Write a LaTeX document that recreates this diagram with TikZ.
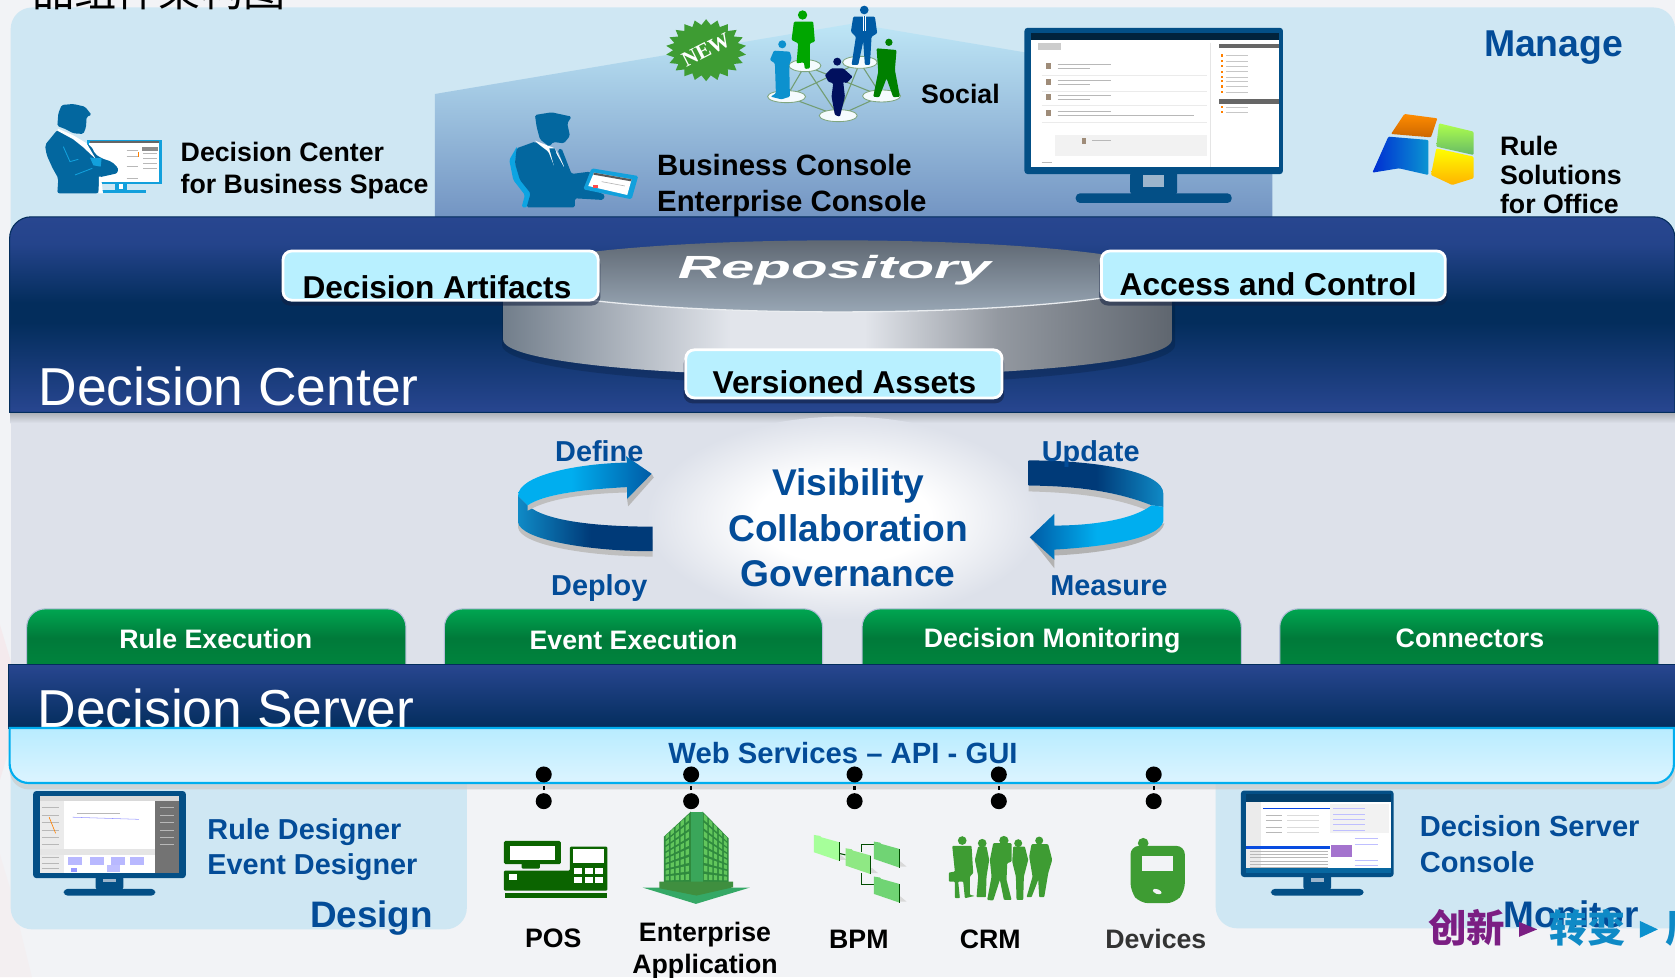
\documentclass[tikz,border=0pt]{standalone}
\usepackage{fontspec}
\setmainfont{Liberation Sans}
\newfontfamily\cjk{Noto Sans CJK SC}
\newfontfamily\serifnew{Liberation Serif}
\usetikzlibrary{shapes.geometric}
\definecolor{pagebg}{HTML}{F2F3F6}
\definecolor{panelblue}{HTML}{CFE7F3}
\definecolor{midbg}{HTML}{DDE1EA}
\definecolor{navya}{HTML}{284690}
\definecolor{navyb}{HTML}{032D5C}
\definecolor{txtblue}{HTML}{034C98}
\definecolor{boxblue}{HTML}{B8F0FF}
\definecolor{peoplebl}{HTML}{03679F}
\definecolor{skyb}{HTML}{12A0DC}
\definecolor{greenicon}{HTML}{3E9C33}
\definecolor{bezel}{HTML}{034F86}
\definecolor{diska}{HTML}{5F6873}
\definecolor{diskb}{HTML}{98A6B4}
\definecolor{sidel}{HTML}{727E8B}
\definecolor{sidem}{HTML}{E2E5EB}
\definecolor{sider}{HTML}{5F666F}
\definecolor{ta}{HTML}{00A651}
\definecolor{tb}{HTML}{007A3A}
\definecolor{tc}{HTML}{009040}
\definecolor{cenTop}{HTML}{BEE6F6}
\definecolor{cenBot}{HTML}{6E8FBF}
\definecolor{rib1}{HTML}{00AEEF}
\definecolor{rib2}{HTML}{005BA5}
\definecolor{rib3}{HTML}{0F8AC6}
\definecolor{rib4}{HTML}{003A78}
\definecolor{webtop}{HTML}{B8ECFF}
\definecolor{webbot}{HTML}{DCF4FF}
\definecolor{wmpurple}{HTML}{7B1E83}
\pgfdeclareverticalshading{dcband}{100bp}{color(0bp)=(navya); color(25bp)=(navya); color(38bp)=(navyb!55!navya); color(48bp)=(navyb); color(53bp)=(navyb); color(68bp)=(navya!90!navyb); color(75bp)=(navya); color(100bp)=(navya)}
\pgfdeclareverticalshading{tabshade}{100bp}{color(0bp)=(tc); color(25bp)=(tc); color(50bp)=(tb!70!tc); color(60bp)=(tb); color(75bp)=(ta); color(100bp)=(ta)}
\pgfdeclarehorizontalshading{sideshade}{100bp}{color(0bp)=(sidel); color(25bp)=(sidel); color(42bp)=(sidem); color(52bp)=(sidem); color(62bp)=(sider!60!sidem); color(75bp)=(sider); color(100bp)=(sider)}
\pgfdeclarehorizontalshading{riblowl}{100bp}{color(0bp)=(rib3); color(25bp)=(rib3); color(52bp)=(rib4); color(100bp)=(rib4)}
\pgfdeclarehorizontalshading{ribupl}{100bp}{color(0bp)=(rib1); color(25bp)=(rib1); color(45bp)=(rib1); color(75bp)=(rib2); color(100bp)=(rib2)}
\pgfdeclarehorizontalshading{ribupr}{100bp}{color(0bp)=(rib4); color(25bp)=(rib4); color(50bp)=(rib4); color(75bp)=(rib3); color(100bp)=(rib3)}
\pgfdeclarehorizontalshading{riblowr}{100bp}{color(0bp)=(rib2); color(25bp)=(rib2); color(50bp)=(rib1); color(100bp)=(rib1)}
\pgfdeclareradialshading{glowshade}{\pgfpoint{0bp}{0bp}}{color(0bp)=(white); color(11bp)=(white); color(25bp)=(midbg); color(50bp)=(midbg)}
\tikzset{
 lab/.style={anchor=base west,inner sep=0pt,font=\fontsize{#1}{#1}\selectfont\bfseries},
 blab/.style={lab=#1,text=txtblue},
 clab/.style={anchor=base,inner sep=0pt,font=\fontsize{#1}{#1}\selectfont\bfseries},
 artbox/.style={rectangle,rounded corners=8,draw=white,line width=2.6pt,fill=boxblue,inner sep=0pt},
 boxshadow/.style={rectangle,rounded corners=8,fill=black!55!navya,opacity=.55,inner sep=0pt},
 greentab/.style={shading=tabshade,draw=navya!35!white,line width=1pt,rounded corners=17},
 tabtxt/.style={clab=25,text=white},
 dot/.style={circle,fill=black,inner sep=0pt,minimum size=15pt},
 peg/.style={draw=black,line width=2.2pt,shorten <=3pt,shorten >=3pt},
 tiny/.style={line width=.6pt,draw=black!28},
}
% monitor: x1 y1 x2 y2 (bezel), neck half width, neck bottom y, base half width, base bottom y
\newcommand{\mymon}[9][bezel]{%
 \pgfmathsetmacro{\cx}{(#2+#4)/2}
 \fill[#1,rounded corners=2.5] (\cx-#6,#5-2) rectangle (\cx+#6,#7+1);
 \fill[midbg!70!bezel] (\cx-#6*.45,#5+1) rectangle (\cx+#6*.45,#7-6);
 \fill[#1,rounded corners=4] (\cx-#8,#7) rectangle (\cx+#8,#9);
 \fill[#1,rounded corners=3] (#2,#3) rectangle (#4,#5);
}
\begin{document}
\begin{tikzpicture}[x=1pt,y=-1pt]
\useasboundingbox (0,0) rectangle (1568,914.6);
\fill[pagebg] (0,0) rectangle (1568,914.6);
% faint backdrop facets
\fill[pink!30!pagebg,opacity=.5] (0,585) -- (12,625) -- (9,700) -- (0,730) -- cycle;
\fill[pink!20!pagebg,opacity=.4] (0,800) -- (9,830) -- (30,915) -- (0,915) -- cycle;
% top panel
\fill[panelblue,rounded corners=20] (10,7) rectangle (1568,260);
\node[anchor=base west,inner sep=0pt,font=\cjk\fontsize{39.5}{40}\selectfont,text=black] (title) at (30,6) {品组件架构图};
% centre wedge
\path[top color=cenTop,bottom color=cenBot] (407,88) -- (799,22) -- (1191,88) -- (1191,215) -- (407,215) -- cycle;
\node[blab=35] (manage) at (1389,53) {Manage};

% ---- person with desktop
\begin{scope}[shift={(28.08,84.24)},scale=.312]
 \fill[skyb] (170,150) rectangle (395,283);
 \fill[white] (176,160) rectangle (388,277);
 \fill[black!45] (336,172) rectangle (384,182);
 \fill[black!60] (180,153) rectangle (388,159);
 \foreach \yy in {190,205,220,235}{\draw[tiny] (340,\yy) -- (382,\yy);}
 \foreach \yy in {180,200,230,265}{\draw[tiny] (290,\yy) -- (325,\yy);}
 \fill[orange] (323,185) rectangle (328,200);
 \fill[skyb] (255,283) rectangle (290,300);
 \fill[skyb] (215,300) rectangle (348,310);
 \fill[white] (268,283) rectangle (278,296);
 \fill[peoplebl,rounded corners=1.5] (85,70) -- (95,45) -- (130,42) -- (165,50) -- (185,75) -- (170,80) -- (168,112) -- (160,132) -- (130,130) -- (108,118) -- (82,108) -- cycle;
 \fill[peoplebl,rounded corners=2] (82,120) -- (45,165) -- (50,195) -- (68,235) -- (85,265) -- (82,310) -- (205,310) -- (208,262) -- (262,250) -- (265,235) -- (245,215) -- (215,205) -- (195,192) -- (185,170) -- (130,140) -- cycle;
 \fill[white] (84,116) -- (130,136) -- (170,160) -- (208,225) -- (195,205) -- (160,172) -- (130,148) -- (82,122) -- cycle;
 \fill[white] (207,260) -- (213,260) -- (219,310) -- (207,310) -- cycle;
 \fill[skyb] (180,203) -- (215,205) -- (212,230) -- (190,226) -- cycle;
 \draw[skyb,line width=.8pt] (100,170) -- (120,215) -- (145,208);
 \draw[skyb,line width=.8pt] (135,255) -- (187,235);
\end{scope}
\node[lab=25,align=left,anchor=west,font=\fontsize{25}{30}\selectfont\bfseries] (dcbs) at (169,160) {Decision Center\\for Business Space};

% ---- person with tablet
\begin{scope}[shift={(458.64,93.6)},scale=.312]
 \fill[skyb!70!rib1,rounded corners=1.5] (82,138) -- (58,180) -- (70,240) -- (105,285) -- (95,322) -- (112,322) -- (122,280) -- (178,268) -- (120,270) -- (90,235) -- (75,190) -- cycle;
 \fill[white] (135,122) -- (195,145) -- (230,212) -- (180,208) -- (170,155) -- cycle;
 \fill[peoplebl,rounded corners=1.5] (135,45) -- (185,37) -- (245,50) -- (232,70) -- (240,108) -- (222,130) -- (190,126) -- (178,140) -- (150,118) -- (140,80) -- cycle;
 \fill[peoplebl,rounded corners=1.5] (80,145) -- (135,125) -- (175,155) -- (195,205) -- (225,205) -- (203,150) -- (215,145) -- (245,222) -- (300,215) -- (315,235) -- (290,260) -- (345,285) -- (340,300) -- (255,295) -- (255,322) -- (110,322) -- (122,280) -- (90,240) -- (75,190) -- cycle;
 \fill[peoplebl] (178,145) -- (195,145) -- (200,162) -- (225,207) -- (195,208) -- cycle;
 \fill[skyb,rounded corners=1.5] (305,205) -- (445,228) -- (425,298) -- (280,268) -- cycle;
 \fill[white] (312,218) -- (425,238) -- (412,285) -- (295,258) -- cycle;
 \fill[black!65] (312,218) -- (425,238) -- (423,244) -- (310,224) -- cycle;
 \fill[red!70] (310,255) rectangle (325,263);
 \draw[tiny] (335,245) -- (405,258);
\end{scope}
\node[lab=27.5,align=left,anchor=west,font=\fontsize{27.5}{33}\selectfont\bfseries] (bcec) at (615,174) {Business Console\\Enterprise Console};

% ---- NEW badge
\node[star,star points=22,star point ratio=1.22,fill=greenicon,minimum size=58pt,inner sep=0pt,xscale=1.3] (newbadge) at (661,47) {};
\node[inner sep=0pt,rotate=27,text=white,font=\serifnew\bfseries\fontsize{20}{20}\selectfont] (newtext) at (661,47) {NEW};

% ---- social
\begin{scope}[shift={(608.4,0)},scale=.312]
 \foreach \a/\b/\c/\d in {465/197/565/347,465/197/695/288,410/290/630/187,410/290/565/347,630/187/565/347,630/187/695/288,695/288/565/347,465/197/410/290}{
  \draw[green!30!black!55,line width=1pt] (\a,\b) -- (\c,\d);}
 \foreach \a/\b/\c in {465/197/48,630/187/52,410/290/57,695/288/57,565/347/57}{
  \filldraw[draw=green!30!black!50,line width=.8pt,fill=white!85!cenTop] (\a,\b) ellipse[x radius=\c,y radius=18];}
 \fill[green!65!black] (458,45) circle (14);
 \fill[green!65!black,rounded corners=1] (432,65) -- (490,65) -- (495,125) -- (480,130) -- (480,205) -- (465,207) -- (462,187) -- (440,190) -- (445,130) -- (425,120) -- cycle;
 \fill[rib3!80!rib1] (397,133) circle (12);
 \fill[rib3!80!rib1,rounded corners=1] (372,152) -- (420,155) -- (425,175) -- (418,195) -- (420,290) -- (395,298) -- (362,290) -- (378,280) -- (375,190) -- (360,180) -- cycle;
 \fill[rib2] (643,30) circle (13);
 \fill[rib2,rounded corners=1] (610,50) -- (675,50) -- (682,100) -- (665,110) -- (660,195) -- (645,195) -- (640,125) -- (625,195) -- (605,195) -- (618,110) -- (603,95) -- cycle;
 \fill[white] (638,48) -- (648,48) -- (648,92) -- (638,92) -- cycle;
 \fill[rib2] (641,48) rectangle (645,92);
 \fill[green!50!black] (717,127) circle (11);
 \fill[green!50!black,rounded corners=1] (680,145) -- (740,150) -- (735,210) -- (750,290) -- (730,292) -- (710,235) -- (688,292) -- (670,290) -- (685,215) -- cycle;
 \fill[navyb!60!blue!60!black] (562,185) circle (12);
 \fill[navyb!60!blue!60!black,rounded corners=1] (545,205) -- (580,205) -- (608,230) -- (590,250) -- (580,245) -- (585,290) -- (570,350) -- (555,345) -- (545,290) -- (550,250) -- (535,245) -- (525,225) -- cycle;
\end{scope}
\node[lab=25] (social) at (862,97) {Social};

% ---- central monitor
\mymon{959}{26}{1201}{163}{22}{181}{73}{190}
\fill[white] (965.5,33) rectangle (1197,156);
\fill[black!55!bezel] (965.5,31) rectangle (1197,37);
\fill[black!20] (971.6,40.5) rectangle (993,46.8);
\foreach \yy in {62,77,91,106}{
 \fill[brown!50!black!60] (979,\yy-3) rectangle (984,\yy+3);
 \draw[tiny] (990,\yy-2) -- (1040,\yy-2);
 \draw[tiny] (990,\yy+2) -- (1020,\yy+2);
 \draw[black!8,line width=.5pt] (975,\yy+8) -- (1130,\yy+8);}
\draw[tiny] (990,108) -- (1118,108);
\fill[black!60] (1141,41) rectangle (1197.5,45);
\fill[black!60] (1141,93) rectangle (1197.5,97);
\foreach \yy in {52,57,62,67,72,76,81,86,100,105}{
 \fill[orange] (1143,\yy-1) rectangle (1145,\yy+1);
 \draw[tiny,draw=black!22] (1148,\yy) -- (1168,\yy);}
\fill[black!5] (988,126) rectangle (1130,146);
\fill[brown!50!black!60] (1013,129) rectangle (1017,135);
\draw[tiny] (1022,131) -- (1040,131);
\draw[black!10,line width=.5pt] (1133,40) -- (1133,156);
\draw[tiny] (975,152) -- (985,152);

% ---- Rule Solutions flag
\begin{scope}[shift={(786.2,0)},xscale=.4985,yscale=.312]
 \shade[top color=orange!90!yellow,bottom color=orange!80!black,rounded corners=1] (1060,342) -- (1122,355) -- (1110,412) -- (1035,402) -- cycle;
 \shade[left color=blue!50!rib2,right color=rib3!70!rib1,rounded corners=1] (1030,410) -- (1105,420) -- (1105,525) -- (1050,505) -- (1000,518) -- cycle;
 \shade[top color=green!45!yellow!70!white,bottom color=green!55!black!60!white,rounded corners=1] (1125,370) -- (1190,395) -- (1190,465) -- (1120,440) -- cycle;
 \shade[top color=yellow,bottom color=orange!60!yellow,rounded corners=1] (1120,445) -- (1190,470) -- (1190,535) -- (1150,555) -- (1110,525) -- cycle;
\end{scope}
\node[lab=25,align=left,anchor=west,font=\fontsize{25}{27}\selectfont\bfseries] (rsfo) at (1404,164) {Rule\\Solutions\\for Office};

% ---- mid zone and Decision Center band
\fill[midbg] (10,386) rectangle (1568,640);
\path[top color=black!25!midbg,bottom color=midbg] (10,385) rectangle (1568,396);
\path[shading=dcband,draw=navyb,line width=1pt] (9,386) -- (9,223) .. controls (9,212) and (18,203) .. (29,203) -- (1548,203) .. controls (1559,203) and (1568,212) .. (1568,223) -- (1568,386) -- cycle;
% repository disk
\fill[black!60!navyb,opacity=.22] (470,268) -- (470,323) .. controls (470,345) and (620,360) .. (784,360) .. controls (950,360) and (1100,345) .. (1100,323) -- (1100,268) -- cycle;
\path[shading=sideshade] (471,258.5) -- (471,318) .. controls (471,338) and (610,352) .. (784,352) .. controls (958,352) and (1097,338) .. (1097,318) -- (1097,258.5) -- cycle;
\path[top color=diska,bottom color=diskb] (784,258.5) ellipse[x radius=313,y radius=33.5];
\draw[white!80!diskb,line width=1.2pt] (471,258.5) .. controls (471,277) and (611,292) .. (784,292) .. controls (957,292) and (1097,277) .. (1097,258.5);
\node[inner sep=0pt,anchor=base,text=white,xscale=1.87,font=\fontsize{30}{30}\selectfont\bfseries\itshape] (repo) at (781,260.5) {Repository};
% boxes
\foreach \nm/\x/\y/\w/\h in {da/412.5/263/295/46,ac/1192/263/322/46,va/790/355/296/45}{
 \node[boxshadow,minimum width=\w pt+4pt,minimum height=\h pt] (\nm s) at (\x,\y) {};
 \node[artbox,minimum width=\w pt,minimum height=\h pt] (\nm) at (\x,\y-5) {};
}
\node[lab=29.6] (datxt) at (283,279) {Decision Artifacts};
\node[lab=29.6] (actxt) at (1048,276.5) {Access and Control};
\node[lab=29.6] (vatxt) at (667,368) {Versioned Assets};
\node[lab=50,font=\fontsize{50}{50}\selectfont,text=white] (dctitle) at (36,380) {Decision Center};

% ---- glow and loop
\path[shading=glowshade] (790,485) ellipse[x radius=185,y radius=95];
% left ribbon
\fill[black!25] (485,480) -- (485,494) .. controls (487,510) and (550,521) .. (611,521) -- (611,505) .. controls (550,505) and (495,495) .. (485,480) -- cycle;
\path[shading=riblowl] (485,464) -- (485,489) .. controls (487,505) and (550,516) .. (611,516) -- (611,493) .. controls (560,493) and (510,488) .. (494,473) -- cycle;
\fill[black!25] (587,461) .. controls (550,462) and (515,466) .. (494,478) -- (494,473) .. controls (510,462) and (550,458) .. (587,456) -- cycle;
\fill[black!28] (587,467) -- (610,443.5) -- (612,447) -- (588,474) -- cycle;
\path[shading=ribupl] (485,464) .. controls (485,445) and (540,434) .. (587,433) -- (586,427) -- (610,443.5) -- (587,467) -- (587,456) .. controls (550,458) and (510,462) .. (494,473) -- cycle;
% right ribbon
\fill[black!25] (963,454.5) .. controls (1000,455) and (1040,458) .. (1078,473) -- (1075,478) .. controls (1040,464) and (1000,461) .. (963,460) -- cycle;
\path[shading=ribupr] (963,431) .. controls (1030,431) and (1089,442) .. (1089,462) -- (1089,474.5) -- (1078,473) .. controls (1040,458) and (1000,455) .. (963,454.5) -- cycle;
\fill[black!30] (1090,490) .. controls (1085,510) and (1030,518) .. (987,520) -- (987,532) -- (964,503) -- (975,500) -- cycle;
\path[shading=riblowr] (1089,474.5) -- (1089,488) .. controls (1085,505) and (1030,512) .. (987,514.5) -- (987,524) -- (964,503) -- (987,481) -- (987,492) .. controls (1020,492) and (1060,487) .. (1078,473) -- cycle;
\node[clab=27,text=txtblue] (define) at (561,432) {Define};
\node[clab=27,text=txtblue] (update) at (1021,432) {Update};
\node[clab=27,text=txtblue] (deploy) at (561,557) {Deploy};
\node[clab=27,text=txtblue] (measure) at (1038,557) {Measure};
\node[align=center,text=txtblue,inner sep=0pt,font=\fontsize{34.8}{42.3}\selectfont\bfseries] (vcg) at (794,494) {Visibility\\Collaboration\\Governance};

% ---- green tabs
\foreach \xa/\xb in {25/380,416/770,807/1162,1198/1553}{
 \path[greentab] (\xa,660) -- (\xa,570) -- (\xb,570) -- (\xb,660) -- cycle;}
\node[tabtxt] (tab1) at (202,607) {Rule Execution};
\node[tabtxt] (tab2) at (593,608) {Event Execution};
\node[tabtxt] (tab3) at (985,606) {Decision Monitoring};
\node[tabtxt] (tab4) at (1376,606) {Connectors};

% ---- lower panels
\fill[panelblue,rounded corners=20] (10,700) rectangle (437,870);
\fill[panelblue,rounded corners=20] (1138,700) rectangle (1600,869);

% ---- Decision Server band
\path[top color=navya,bottom color=navyb,draw=navyb,line width=1pt] (8,622) rectangle (1580,682);
\node[lab=50,font=\fontsize{50}{50}\selectfont,text=white] (dstitle) at (35,681) {Decision Server};
% ---- Web services bar
\fill[black!20,opacity=.7,rounded corners=18] (9,700) rectangle (1568,739);
\path[top color=webtop,bottom color=webbot,draw=rib1,line width=2pt] (9,681.5) -- (9,715) .. controls (9,725) and (17,733) .. (27,733) -- (1549,733) .. controls (1559,733) and (1567,725) .. (1567,715) -- (1567,681.5) -- cycle;
\node[blab=27.4] (web) at (625.5,714.5) {Web Services – API - GUI};

% ---- pegs
\foreach \nm/\x in {p/509,e/647,b/800,c/935,d/1080}{
 \node[dot] (\nm top) at (\x,725) {};
 \node[dot] (\nm bot) at (\x,750) {};
 \draw[peg] (\nm top) -- (\nm bot);
}

% ---- Design monitor
\mymon{31}{740.5}{174}{822}{13}{832}{43}{838.5}
\fill[white] (37,745) rectangle (168,817);
\fill[black!15] (37,745) rectangle (168,750);
\fill[black!8] (37,750) rectangle (60,817);
\fill[black!55] (145,750) rectangle (168,817);
\foreach \yy in {756,763,770,777,784,790}{
 \draw[tiny] (150,\yy) -- (163,\yy);
 \draw[tiny] (39,\yy) -- (55,\yy);}
\draw[orange,line width=.6pt] (46,765) -- (52,780);
\draw[blue!40,line width=.5pt] (68,765) -- (130,767);
\draw[tiny] (72,761) -- (112,761);
\fill[black!10] (37,795) rectangle (145,800);
\foreach \xx in {64,84,104,122}{\fill[blue!28] (\xx,802) rectangle (\xx+13,810);}
\fill[blue!25] (100,810) rectangle (112,816);
\fill[blue!40] (66,813) rectangle (72,816);
\foreach \yy in {803,808,813}{\draw[tiny] (39,\yy) -- (55,\yy);}
\node[blab=27,align=left,anchor=west,font=\fontsize{27}{33}\selectfont\bfseries] (rded) at (194,795) {Rule Designer\\Event Designer};
\node[blab=34.5] (design) at (290,868) {Design};

% ---- POS
\definecolor{posg}{HTML}{0B6400}
\begin{scope}[shift={(458.64,748.8)},scale=.312]
 \fill[posg,rounded corners=1.5] (42,123) rectangle (213,193);
 \fill[white] (60,137) rectangle (195,180);
 \fill[posg,rounded corners=1] (95,190) rectangle (150,206);
 \fill[posg,rounded corners=1] (42,212) -- (240,212) -- (240,140) -- (352,140) -- (352,272) -- (42,272) -- cycle;
 \fill[white] (250,147) rectangle (342,190);
 \foreach \xx in {252,284,316}{\foreach \yy in {205,232}{\fill[white] (\xx,\yy) rectangle (\xx+24,\yy+17);}}
 \fill[white] (57,222) rectangle (82,240);
 \fill[posg] (44,280) rectangle (352,293);
\end{scope}
\node[clab=25] (pos) at (518,887) {POS};

% ---- Building
\definecolor{bldDark}{HTML}{2F8A3E}
\definecolor{bldWin}{HTML}{62C65C}
\definecolor{bldCol}{HTML}{3AA65A}
\definecolor{bldGround}{HTML}{35A866}
\definecolor{bldBase}{HTML}{3F8F3F}
\begin{scope}[shift={(458.64,748.8)},scale=.312]
 \fill[bldDark] (603,35) -- (522,110) -- (522,250) -- (603,250) -- cycle;
 \fill[bldDark] (638,35) -- (716,115) -- (716,250) -- (638,250) -- cycle;
 \foreach \c in {0,...,4}{\foreach \r in {0,...,7}{
  \pgfmathsetmacro{\xa}{527+15*\c}
  \pgfmathsetmacro{\xb}{\xa+10}
  \pgfmathsetmacro{\ta}{110-(\xa-522)*.925}
  \pgfmathsetmacro{\tb}{110-(\xb-522)*.925}
  \pgfmathsetmacro{\ya}{\ta+(245-\ta)*(\r+.12)/8}
  \pgfmathsetmacro{\yb}{\tb+(245-\tb)*(\r+.12)/8}
  \pgfmathsetmacro{\yc}{\ta+(245-\ta)*(\r+.8)/8}
  \pgfmathsetmacro{\yd}{\tb+(245-\tb)*(\r+.8)/8}
  \fill[bldWin] (\xa,\ya) -- (\xb,\yb) -- (\xb,\yd) -- (\xa,\yc) -- cycle;
  \pgfmathsetmacro{\xe}{642+15*\c}
  \pgfmathsetmacro{\xf}{\xe+10}
  \pgfmathsetmacro{\te}{35+(\xe-638)*1.03}
  \pgfmathsetmacro{\tf}{35+(\xf-638)*1.03}
  \pgfmathsetmacro{\ye}{\te+(245-\te)*(\r+.12)/8}
  \pgfmathsetmacro{\yf}{\tf+(245-\tf)*(\r+.12)/8}
  \pgfmathsetmacro{\yg}{\te+(245-\te)*(\r+.8)/8}
  \pgfmathsetmacro{\yh}{\tf+(245-\tf)*(\r+.8)/8}
  \fill[bldWin] (\xe,\ye) -- (\xf,\yf) -- (\xf,\yh) -- (\xe,\yg) -- cycle;
 }}
 \fill[bldCol] (603,35) -- (638,35) -- (638,250) -- (603,250) -- cycle;
 \fill[bldGround] (458,263) -- (780,263) -- (618,312) -- cycle;
 \fill[bldBase] (508,245) -- (730,245) -- (730,262) -- (620,287) -- (508,265) -- cycle;
\end{scope}
\node[clab=25,align=center,anchor=center,font=\fontsize{25}{30}\selectfont\bfseries] (entapp) at (660,889.5) {Enterprise\\Application};

% ---- BPM
\definecolor{foldA}{HTML}{A6FF9A}
\definecolor{foldB}{HTML}{8FE884}
\definecolor{foldC}{HTML}{70D474}
\begin{scope}[shift={(748.8,758.16)},scale=.312]
 \draw[green!30!black,line width=1pt] (115,130) -- (137,135);
 \draw[green!30!black,line width=1pt] (185,125) -- (185,105) -- (222,105);
 \draw[green!30!black,line width=1pt] (185,190) -- (185,225) -- (222,225);
 \foreach \pa/\pb/\col in {42/75/foldA,137/115/foldB,222/95/foldC,222/200/foldC}{
  \fill[black!15] (\pa+8,\pb+48) -- (\pa+80,\pb+75) -- (\pa+98,\pb+75) -- (\pa+80,\pb+60) -- cycle;
  \fill[\col] (\pa,\pb) -- (\pa+18,\pb+3) -- (\pa+22,\pb+7) -- (\pa+76,\pb+22) -- (\pa+76,\pb+78) -- (\pa,\pb+52) -- cycle;
  \draw[green!30!black,line width=.9pt] (\pa+76,\pb+22) -- (\pa+76,\pb+78);
 }
\end{scope}
\node[clab=25] (bpm) at (804,887.5) {BPM};

% ---- CRM
\begin{scope}[shift={(748.8,758.16)},scale=.312,greenicon]
 \fill (487,92) circle (13) (547,100) circle (13) (612,92) circle (14) (655,100) circle (12) (718,92) circle (12);
 \fill[rounded corners=.8] (457,108) -- (515,108) -- (520,190) -- (510,200) -- (510,255) -- (525,258) -- (495,265) -- (490,215) -- (475,215) -- (480,265) -- (465,265) -- (465,215) -- (447,215) -- (447,188) -- (465,185) -- cycle;
 \fill[rounded corners=.8] (535,110) -- (560,110) -- (568,150) -- (560,200) -- (558,262) -- (530,262) -- (535,200) -- (525,150) -- cycle;
 \fill[rounded corners=.8] (580,100) -- (635,100) -- (635,155) -- (622,160) -- (620,210) -- (635,270) -- (612,270) -- (600,210) -- (580,272) -- (562,270) -- (575,200) -- (570,150) -- cycle;
 \fill[rounded corners=.8] (640,110) -- (675,110) -- (685,150) -- (672,200) -- (670,270) -- (650,270) -- (648,200) -- (637,155) -- cycle;
 \fill[rounded corners=.8] (695,103) -- (745,103) -- (757,150) -- (745,190) -- (733,262) -- (718,262) -- (715,210) -- (695,262) -- (680,262) -- (698,200) -- (688,140) -- cycle;
\end{scope}
\node[clab=25] (crm) at (927,888) {CRM};

% ---- Device
\begin{scope}[shift={(748.8,758.16)},scale=.312]
 \fill[greenicon] (1030,100) circle (16);
 \fill[greenicon,rounded corners=8] (992,108) -- (1155,108) -- (1155,245) -- (1125,280) -- (1020,280) -- (992,245) -- cycle;
 \fill[pagebg] (1027,138) rectangle (1120,183);
 \fill[pagebg,rotate around={-20:(1072,245)}] (1072,245) ellipse[x radius=14,y radius=7];
\end{scope}
\node[clab=25,text=black!80] (dev) at (1082,888) {Devices};

% ---- Console monitor
\mymon{1161.6}{740}{1304.6}{821}{13}{832}{43.5}{838.5}
\fill[white] (1166,743.5) rectangle (1302,817);
\fill[bezel!80!black] (1166,743.5) rectangle (1302,751);
\fill[blue!50!rib3] (1182,756) rectangle (1245,757.5);
\fill[black!8] (1166,751) rectangle (1180,817);
\foreach \yy in {763,768,774,779}{\draw[tiny] (1185,\yy) -- (1200,\yy); \draw[black!14,line width=.4pt] (1205,\yy) -- (1235,\yy);}
\fill[black!5] (1245,753) rectangle (1300,780);
\foreach \yy in {757,762,767,772,777}{\draw[tiny,draw=blue!25] (1248,\yy) -- (1278,\yy);}
\fill[blue!45!rib3] (1166,792) rectangle (1245,794.5);
\foreach \yy in {797,800,803,806,809,812}{\draw[tiny] (1170,\yy) -- (1243,\yy);}
\fill[blue!30!violet!55] (1246,791) rectangle (1266,802);
\foreach \yy in {785,790,805,810}{\draw[tiny,draw=blue!25] (1268,\yy) -- (1290,\yy);}
\fill[bezel!60!rib3] (1166,813) rectangle (1302,817);
\node[blab=27.2,align=left,anchor=west,font=\fontsize{27.2}{34}\selectfont\bfseries] (dscon) at (1329,790) {Decision Server\\Console};
\node[blab=34.6] (monitor) at (1407,868) {Monitor};

% ---- watermark
\node[anchor=base west,inner sep=0pt,text=wmpurple,font=\cjk\bfseries\fontsize{36}{36}\selectfont] (wm1) at (1337,882) {创新};
\node[anchor=base west,inner sep=0pt,text=rib3,font=\cjk\bfseries\fontsize{36}{36}\selectfont] (wm2) at (1450,882) {转变};
\fill[wmpurple] (1422,863) -- (1439,870) -- (1422,877) -- cycle;
\fill[rib3!80!rib1] (1535,862) -- (1552,870) -- (1535,878) -- cycle;
\node[anchor=base west,inner sep=0pt,text=rib3,font=\cjk\bfseries\fontsize{36}{36}\selectfont] (wm3) at (1559,882) {周};
\end{tikzpicture}
\end{document}
